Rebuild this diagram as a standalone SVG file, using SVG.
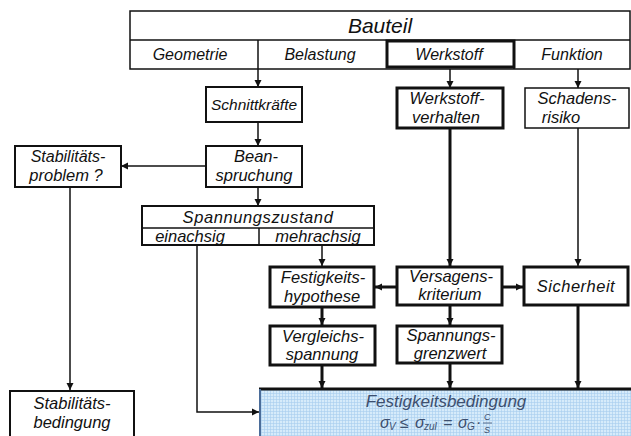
<svg xmlns="http://www.w3.org/2000/svg" width="631" height="436" viewBox="0 0 631 436">
<style>
text{font-family:"Liberation Sans","DejaVu Sans",sans-serif;font-style:italic;fill:#111;text-anchor:middle;font-size:16.5px}
.row{font-size:16px}
.b1{fill:#fff;stroke:#111;stroke-width:1.5}
.b2{fill:#fff;stroke:#111;stroke-width:2}
.b3{fill:#fff;stroke:#111;stroke-width:3}
.c1{fill:none;stroke:#111;stroke-width:1.5}
.c3{fill:none;stroke:#111;stroke-width:3}
.f{fill:#3d4f6e;text-anchor:start;font-size:16px}
.fs{fill:#3d4f6e;text-anchor:start;font-size:10px}
</style>
<defs>
<marker id="ah" viewBox="0 0 10 10" refX="10" refY="5" markerWidth="7" markerHeight="8" markerUnits="userSpaceOnUse" orient="auto">
<path d="M0,0 L10,5 L0,10 z" fill="#111"/>
</marker>
<pattern id="grid" width="3" height="3" patternUnits="userSpaceOnUse">
<rect width="3" height="3" fill="#d6ebfa"/>
<path d="M0,0.5 H3 M0.5,0 V3" stroke="#a8cdee" stroke-width="0.6"/>
</pattern>
</defs>
<rect width="631" height="436" fill="#fff"/>

<g id="connectors">
<line class="c1" x1="258" y1="69" x2="258" y2="87" marker-end="url(#ah)"/>
<line class="c1" x1="450" y1="67" x2="450" y2="88" marker-end="url(#ah)"/>
<line class="c1" x1="578" y1="69" x2="578" y2="88" marker-end="url(#ah)"/>
<line class="c1" x1="258" y1="122" x2="258" y2="146" marker-end="url(#ah)"/>
<line class="c1" x1="206" y1="166" x2="121" y2="166" marker-end="url(#ah)"/>
<line class="c1" x1="258" y1="187" x2="258" y2="206" marker-end="url(#ah)"/>
<line class="c1" x1="70" y1="187" x2="70" y2="390" marker-end="url(#ah)"/>
<polyline class="c1" points="197,245 197,412 259,412" marker-end="url(#ah)"/>
<line class="c1" x1="322" y1="245" x2="322" y2="266" marker-end="url(#ah)"/>
<line class="c3" x1="450" y1="128" x2="450" y2="266" marker-end="url(#ah)"/>
<line class="c1" x1="578" y1="128" x2="578" y2="266" marker-end="url(#ah)"/>
<line class="c3" x1="397" y1="287" x2="375" y2="287" marker-end="url(#ah)"/>
<line class="c3" x1="502" y1="287" x2="523" y2="287" marker-end="url(#ah)"/>
<line class="c3" x1="322" y1="307" x2="322" y2="325" marker-end="url(#ah)"/>
<line class="c3" x1="450" y1="305" x2="450" y2="325" marker-end="url(#ah)"/>
<line class="c3" x1="322" y1="365" x2="322" y2="388" marker-end="url(#ah)"/>
<line class="c3" x1="450" y1="363" x2="450" y2="388" marker-end="url(#ah)"/>
<line class="c3" x1="578" y1="305" x2="578" y2="388" marker-end="url(#ah)"/>
</g>

<g id="bauteil">
<rect class="b1" x="130" y="11" width="500" height="58"/>
<line class="c1" x1="130" y1="40" x2="630" y2="40"/>
<line class="c1" x1="258" y1="40" x2="258" y2="69"/>
<line class="c1" x1="514" y1="40" x2="514" y2="69"/>
<text x="380" y="33" style="font-size:21px">Bauteil</text>
<text class="row" x="190" y="60">Geometrie</text>
<text class="row" x="320" y="60">Belastung</text>
<text class="row" x="572" y="60">Funktion</text>
</g>
<g id="werkstoff">
<rect class="b3" x="387" y="41" width="127" height="26"/>
<text class="row" x="449" y="60">Werkstoff</text>
</g>
<g id="schnittkraefte">
<rect class="b2" x="206" y="87" width="96" height="35"/>
<text x="254" y="110" style="font-size:15.5px">Schnittkräfte</text>
</g>
<g id="werkstoffverhalten">
<rect class="b3" x="397" y="88" width="106" height="40"/>
<text x="447" y="104">Werkstoff-</text>
<text x="446" y="123">verhalten</text>
</g>
<g id="schadensrisiko">
<rect class="b1" x="525" y="88" width="104" height="40"/>
<text x="577" y="104">Schadens-</text>
<text x="561" y="123">risiko</text>
</g>
<g id="stabilitaetsproblem">
<rect class="b2" x="15" y="146" width="106" height="41"/>
<text x="68" y="162" style="font-size:16px">Stabilitäts-</text>
<text x="66" y="181">problem ?</text>
</g>
<g id="beanspruchung">
<rect class="b2" x="206" y="146" width="96" height="41"/>
<text x="256" y="162">Bean-</text>
<text x="254" y="181">spruchung</text>
</g>
<g id="spannungszustand">
<rect class="b2" x="142" y="206" width="232" height="39"/>
<line class="c1" x1="142" y1="228" x2="374" y2="228"/>
<line class="c1" x1="259" y1="228" x2="259" y2="245"/>
<text x="258" y="223" style="letter-spacing:0.6px">Spannungszustand</text>
<text x="190" y="242">einachsig</text>
<text x="318" y="242">mehrachsig</text>
</g>
<g id="festigkeitshypothese">
<rect class="b3" x="270" y="267" width="104" height="40"/>
<text x="323" y="283">Festigkeits-</text>
<text x="322" y="302">hypothese</text>
</g>
<g id="versagenskriterium">
<rect class="b3" x="397" y="267" width="105" height="38"/>
<text x="451" y="282">Versagens-</text>
<text x="450" y="300">kriterium</text>
</g>
<g id="sicherheit">
<rect class="b3" x="524" y="267" width="104" height="38"/>
<text x="576" y="292" style="letter-spacing:0.5px">Sicherheit</text>
</g>
<g id="vergleichsspannung">
<rect class="b3" x="270" y="326" width="105" height="39"/>
<text x="323" y="342">Vergleichs-</text>
<text x="322" y="360">spannung</text>
</g>
<g id="spannungsgrenzwert">
<rect class="b3" x="397" y="326" width="105" height="37"/>
<text x="451" y="341">Spannungs-</text>
<text x="450" y="359">grenzwert</text>
</g>
<g id="stabilitaetsbedingung">
<rect class="b2" x="10" y="391" width="124" height="50"/>
<text x="72" y="409">Stabilitäts-</text>
<text x="72" y="428">bedingung</text>
</g>
<g id="festigkeitsbedingung">
<rect x="259" y="389" width="375" height="50" fill="url(#grid)" stroke="none"/>
<line x1="259" y1="389" x2="631" y2="389" stroke="#111" stroke-width="3"/>
<line x1="260" y1="389" x2="260" y2="436" stroke="#4b6d9a" stroke-width="2"/>
<text x="446" y="407" style="fill:#3d4f6e;font-size:17px">Festigkeitsbedingung</text>
<text class="f" x="380" y="428">σ</text>
<text class="fs" x="389" y="430">V</text>
<text class="f" x="400" y="428">≤</text>
<text class="f" x="415" y="428">σ</text>
<text class="fs" x="424" y="430">zul</text>
<text class="f" x="443" y="428">=</text>
<text class="f" x="458" y="428">σ</text>
<text class="fs" x="467" y="430">G</text>
<text class="f" x="476" y="428">·</text>
<text class="fs" x="484" y="420" style="font-size:9px">C</text>
<line x1="483" y1="423" x2="492" y2="423" stroke="#3d4f6e" stroke-width="0.8"/>
<text class="fs" x="484" y="433" style="font-size:9px">S</text>
</g>
</svg>
